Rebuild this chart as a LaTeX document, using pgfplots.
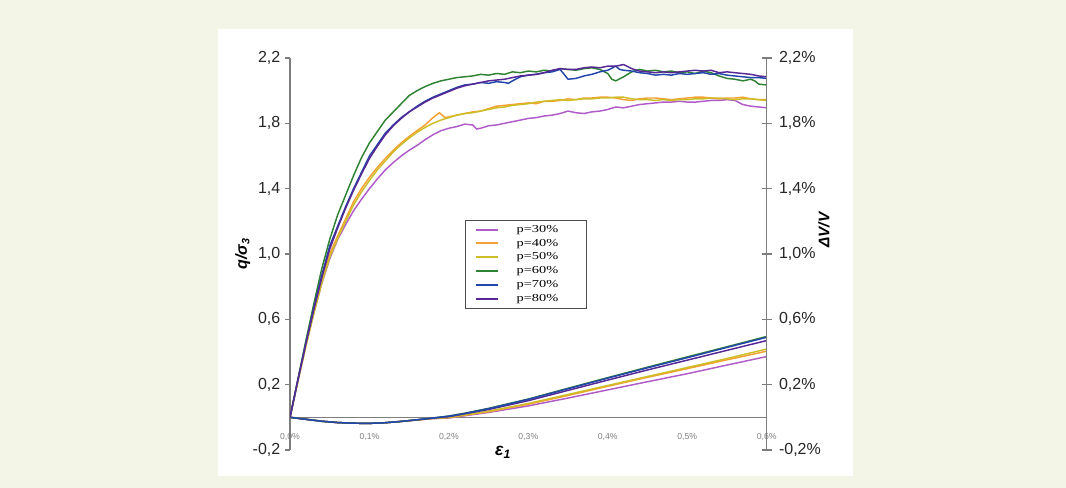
\documentclass[border=0pt]{standalone}
\usepackage{fontspec}
\setmainfont{Liberation Sans}
\newfontfamily\legfont{Liberation Serif}[FakeStretch=1.35]
\usepackage{pgfplots}
\pgfplotsset{compat=1.18}
\definecolor{bgc}{RGB}{243,246,231}
\definecolor{axc}{RGB}{125,125,125}
\definecolor{cA}{RGB}{176,92,200}
\definecolor{cB}{RGB}{245,160,50}
\definecolor{cC}{RGB}{205,190,40}
\definecolor{cD}{RGB}{46,130,50}
\definecolor{cE}{RGB}{35,70,170}
\definecolor{cF}{RGB}{85,40,150}
\newcommand{\legtxt}[1]{\makebox[43pt][l]{#1}}
\begin{document}
\begin{tikzpicture}
\fill[bgc] (0pt,0pt) rectangle (799.5pt,366pt);
\fill[white] (163.5pt,9pt) rectangle (639.75pt,344.25pt);
\begin{axis}[
  scale only axis, width=357.5pt, height=294pt,
  at={(217.5pt,28.5pt)}, anchor=south west,
  xmin=0, xmax=0.6, ymin=-0.2, ymax=2.2,
  axis y line*=left, axis x line=middle,
  axis line style={-, draw=axc, line width=0.9pt},
  every inner x axis line/.append style={-},
  hide obscured x ticks=false,
  tick align=outside, major tick length=3.75pt,
  tick style={draw=axc, line width=0.8pt},
  major x tick style={draw=none},
  xtick={0,0.1,0.2,0.3,0.4,0.5,0.6},
  xticklabels={{0,0\%},{0,1\%},{0,2\%},{0,3\%},{0,4\%},{0,5\%},{0,6\%}},
  xticklabel style={font=\fontsize{6.5}{7}\selectfont, text=gray, yshift=-5pt},
  ytick={-0.2,0.2,0.6,1.0,1.4,1.8,2.2},
  yticklabels={{-0,2},{0,2},{0,6},{1,0},{1,4},{1,8},{2,2}},
  yticklabel style={font=\fontsize{12}{14}\selectfont, text=black!85},
  ylabel={\bfseries\itshape q/σ\textsubscript{3}},
  ylabel style={at={(axis description cs:-0.099,0.5)}, anchor=center, rotate=0, font=\fontsize{12}{14}\selectfont},
  xlabel={\bfseries\itshape ε\textsubscript{1}},
  xlabel style={at={(axis description cs:0.447,-0.005)}, anchor=center, font=\fontsize{13}{15}\selectfont},
  legend style={at={(axis description cs:0.367,0.587)}, anchor=north west,
    draw=black!70, line width=0.6pt, fill=white,
    font=\legfont\fontsize{8}{9}\selectfont, row sep=-0.35pt, inner xsep=7pt, inner ysep=1.5pt,
    /tikz/every odd column/.append style={column sep=11pt}},
  legend cell align=left,
  legend image code/.code={\draw[#1, line width=1.5pt] (0pt,0pt) -- (17pt,0pt);},
  every axis plot/.append style={line width=1.1pt},
]
% volumetric strain curves (right axis, same scale)
\addplot[cA, forget plot] coordinates {(0,0)(0.02,-0.012)(0.04,-0.024)(0.06,-0.032)(0.08,-0.036)(0.10,-0.037)(0.12,-0.033)(0.14,-0.025)(0.16,-0.016)(0.18,-0.008)(0.20,-0.004)(0.25,0.03)(0.30,0.07)(0.35,0.118)(0.40,0.168)(0.45,0.218)(0.50,0.267)(0.55,0.32)(0.60,0.372)};
\addplot[cB, forget plot] coordinates {(0,0)(0.02,-0.012)(0.04,-0.024)(0.06,-0.032)(0.08,-0.036)(0.10,-0.037)(0.12,-0.033)(0.14,-0.025)(0.16,-0.016)(0.18,-0.007)(0.20,-0.002)(0.25,0.034)(0.30,0.08)(0.35,0.134)(0.40,0.19)(0.45,0.245)(0.50,0.298)(0.55,0.352)(0.60,0.405)};
\addplot[cC, forget plot] coordinates {(0,0)(0.02,-0.012)(0.04,-0.024)(0.06,-0.032)(0.08,-0.036)(0.10,-0.037)(0.12,-0.033)(0.14,-0.025)(0.16,-0.016)(0.18,-0.006)(0.20,0.0)(0.25,0.038)(0.30,0.085)(0.35,0.14)(0.40,0.195)(0.45,0.25)(0.50,0.305)(0.55,0.36)(0.60,0.418)};
\addplot[cF, forget plot] coordinates {(0,0)(0.02,-0.012)(0.04,-0.024)(0.06,-0.032)(0.08,-0.036)(0.10,-0.037)(0.12,-0.033)(0.14,-0.025)(0.16,-0.015)(0.18,-0.005)(0.20,0.004)(0.25,0.048)(0.30,0.102)(0.35,0.165)(0.40,0.228)(0.45,0.29)(0.50,0.35)(0.55,0.41)(0.60,0.47)};
\addplot[cD, forget plot] coordinates {(0,0)(0.02,-0.012)(0.04,-0.024)(0.06,-0.032)(0.08,-0.036)(0.10,-0.037)(0.12,-0.033)(0.14,-0.025)(0.16,-0.015)(0.18,-0.004)(0.20,0.008)(0.22,0.025)(0.25,0.055)(0.30,0.112)(0.35,0.178)(0.40,0.243)(0.45,0.307)(0.50,0.37)(0.55,0.432)(0.60,0.495)};
\addplot[cE, forget plot] coordinates {(0,0)(0.02,-0.012)(0.04,-0.024)(0.06,-0.032)(0.08,-0.036)(0.10,-0.037)(0.12,-0.033)(0.14,-0.025)(0.16,-0.015)(0.18,-0.004)(0.20,0.007)(0.22,0.024)(0.25,0.053)(0.30,0.11)(0.35,0.175)(0.40,0.24)(0.45,0.303)(0.50,0.365)(0.55,0.428)(0.60,0.49)};
% deviatoric stress ratio curves
\addplot[cA] coordinates {(0,0)(0.01,0.225)(0.02,0.44)(0.03,0.64)(0.04,0.82)(0.05,0.97)(0.06,1.09)(0.07,1.18)(0.08,1.265)(0.09,1.335)(0.10,1.40)(0.11,1.46)(0.12,1.515)(0.13,1.56)(0.14,1.60)(0.15,1.635)(0.16,1.665)(0.17,1.70)(0.18,1.73)(0.19,1.755)(0.20,1.77)(0.21,1.78)(0.22,1.795)(0.23,1.79)(0.235,1.765)(0.24,1.77)(0.25,1.785)(0.26,1.79)(0.27,1.80)(0.28,1.81)(0.29,1.82)(0.30,1.83)(0.31,1.835)(0.32,1.845)(0.33,1.85)(0.34,1.86)(0.35,1.875)(0.36,1.865)(0.37,1.86)(0.38,1.87)(0.39,1.875)(0.40,1.885)(0.41,1.90)(0.42,1.895)(0.43,1.905)(0.44,1.915)(0.45,1.92)(0.46,1.925)(0.47,1.93)(0.48,1.93)(0.49,1.935)(0.50,1.93)(0.51,1.93)(0.52,1.935)(0.53,1.94)(0.54,1.94)(0.55,1.945)(0.56,1.94)(0.57,1.915)(0.58,1.905)(0.59,1.90)(0.60,1.895)};
\addlegendentry{\legtxt{p=30\%}}
\addplot[cB] coordinates {(0,0)(0.01,0.225)(0.02,0.445)(0.03,0.65)(0.04,0.84)(0.05,1.00)(0.06,1.11)(0.07,1.215)(0.08,1.32)(0.09,1.40)(0.10,1.47)(0.11,1.53)(0.12,1.585)(0.13,1.635)(0.14,1.68)(0.15,1.72)(0.16,1.755)(0.17,1.79)(0.18,1.835)(0.188,1.865)(0.195,1.835)(0.20,1.84)(0.21,1.85)(0.22,1.86)(0.23,1.87)(0.24,1.875)(0.25,1.89)(0.26,1.905)(0.27,1.91)(0.28,1.915)(0.29,1.92)(0.30,1.925)(0.31,1.92)(0.32,1.935)(0.33,1.935)(0.34,1.94)(0.35,1.95)(0.36,1.945)(0.37,1.955)(0.38,1.955)(0.39,1.96)(0.40,1.96)(0.41,1.955)(0.42,1.945)(0.43,1.94)(0.44,1.95)(0.45,1.955)(0.46,1.955)(0.47,1.95)(0.48,1.945)(0.49,1.95)(0.50,1.955)(0.51,1.96)(0.52,1.96)(0.53,1.955)(0.54,1.95)(0.55,1.955)(0.56,1.955)(0.57,1.96)(0.58,1.95)(0.59,1.945)(0.60,1.945)};
\addlegendentry{\legtxt{p=40\%}}
\addplot[cC] coordinates {(0,0)(0.01,0.22)(0.02,0.435)(0.03,0.635)(0.04,0.82)(0.05,0.98)(0.06,1.095)(0.07,1.20)(0.08,1.30)(0.09,1.38)(0.10,1.45)(0.11,1.515)(0.12,1.57)(0.13,1.625)(0.14,1.67)(0.15,1.71)(0.16,1.745)(0.17,1.775)(0.18,1.80)(0.19,1.82)(0.20,1.835)(0.21,1.85)(0.22,1.86)(0.23,1.865)(0.24,1.875)(0.25,1.885)(0.26,1.895)(0.27,1.90)(0.28,1.91)(0.29,1.915)(0.30,1.92)(0.31,1.93)(0.32,1.935)(0.33,1.94)(0.34,1.945)(0.35,1.94)(0.36,1.945)(0.37,1.95)(0.38,1.95)(0.39,1.955)(0.40,1.955)(0.41,1.96)(0.42,1.96)(0.43,1.95)(0.44,1.945)(0.45,1.945)(0.46,1.94)(0.47,1.945)(0.48,1.94)(0.49,1.945)(0.50,1.945)(0.51,1.95)(0.52,1.95)(0.53,1.955)(0.54,1.955)(0.55,1.95)(0.56,1.945)(0.57,1.95)(0.58,1.95)(0.59,1.945)(0.60,1.94)};
\addlegendentry{\legtxt{p=50\%}}
\addplot[cD] coordinates {(0,0)(0.01,0.235)(0.02,0.47)(0.03,0.695)(0.04,0.91)(0.05,1.09)(0.06,1.24)(0.07,1.36)(0.08,1.48)(0.09,1.59)(0.10,1.68)(0.11,1.75)(0.12,1.82)(0.13,1.87)(0.14,1.92)(0.15,1.97)(0.16,2.00)(0.17,2.025)(0.18,2.045)(0.19,2.06)(0.20,2.07)(0.21,2.08)(0.22,2.085)(0.23,2.09)(0.24,2.10)(0.25,2.095)(0.26,2.105)(0.27,2.10)(0.28,2.115)(0.29,2.11)(0.30,2.12)(0.31,2.115)(0.32,2.125)(0.33,2.12)(0.34,2.135)(0.35,2.13)(0.36,2.125)(0.37,2.135)(0.38,2.14)(0.39,2.13)(0.40,2.105)(0.405,2.07)(0.41,2.06)(0.42,2.085)(0.43,2.115)(0.44,2.13)(0.45,2.12)(0.46,2.125)(0.47,2.115)(0.48,2.12)(0.49,2.11)(0.50,2.115)(0.51,2.105)(0.52,2.12)(0.53,2.11)(0.54,2.09)(0.55,2.075)(0.56,2.07)(0.57,2.06)(0.58,2.07)(0.585,2.06)(0.59,2.04)(0.60,2.035)};
\addlegendentry{\legtxt{p=60\%}}
\addplot[cE] coordinates {(0,0)(0.01,0.23)(0.02,0.455)(0.03,0.67)(0.04,0.87)(0.05,1.05)(0.06,1.17)(0.07,1.29)(0.08,1.40)(0.09,1.50)(0.10,1.60)(0.11,1.67)(0.12,1.74)(0.13,1.79)(0.14,1.835)(0.15,1.87)(0.16,1.905)(0.17,1.935)(0.18,1.96)(0.19,1.98)(0.20,2.00)(0.21,2.02)(0.22,2.035)(0.23,2.04)(0.24,2.05)(0.25,2.045)(0.26,2.055)(0.27,2.05)(0.275,2.045)(0.28,2.06)(0.29,2.085)(0.30,2.095)(0.31,2.10)(0.32,2.11)(0.33,2.115)(0.34,2.13)(0.345,2.10)(0.35,2.07)(0.36,2.075)(0.37,2.09)(0.38,2.10)(0.39,2.115)(0.40,2.125)(0.41,2.15)(0.415,2.13)(0.42,2.125)(0.43,2.12)(0.44,2.11)(0.45,2.105)(0.46,2.095)(0.47,2.10)(0.48,2.095)(0.49,2.105)(0.50,2.10)(0.51,2.105)(0.52,2.11)(0.53,2.10)(0.54,2.105)(0.55,2.095)(0.56,2.09)(0.57,2.085)(0.58,2.08)(0.59,2.08)(0.60,2.075)};
\addlegendentry{\legtxt{p=70\%}}
\addplot[cF] coordinates {(0,0)(0.01,0.23)(0.02,0.45)(0.03,0.66)(0.04,0.855)(0.05,1.03)(0.06,1.16)(0.07,1.28)(0.08,1.39)(0.09,1.49)(0.10,1.585)(0.11,1.66)(0.12,1.73)(0.13,1.785)(0.14,1.83)(0.15,1.87)(0.16,1.90)(0.17,1.93)(0.18,1.955)(0.19,1.975)(0.20,1.995)(0.21,2.015)(0.22,2.03)(0.23,2.04)(0.24,2.05)(0.25,2.06)(0.26,2.065)(0.27,2.07)(0.28,2.08)(0.29,2.09)(0.30,2.095)(0.31,2.10)(0.32,2.11)(0.33,2.125)(0.34,2.135)(0.35,2.13)(0.36,2.13)(0.37,2.14)(0.38,2.145)(0.39,2.14)(0.40,2.15)(0.41,2.15)(0.42,2.16)(0.43,2.135)(0.44,2.12)(0.45,2.115)(0.46,2.11)(0.47,2.115)(0.48,2.11)(0.49,2.115)(0.50,2.12)(0.51,2.125)(0.52,2.12)(0.53,2.125)(0.54,2.11)(0.55,2.115)(0.56,2.11)(0.57,2.105)(0.58,2.10)(0.59,2.09)(0.60,2.085)};
\addlegendentry{\legtxt{p=80\%}}
\end{axis}
\begin{axis}[
  scale only axis, width=357.5pt, height=294pt,
  at={(217.5pt,28.5pt)}, anchor=south west,
  xmin=0, xmax=0.6, ymin=-0.2, ymax=2.2, clip=false,
  axis y line*=right, axis x line=none,
  axis line style={-, draw=axc, line width=0.9pt},
  tick align=center, major tick length=7.5pt,
  tick style={draw=axc, line width=0.8pt},
  ytick={-0.2,0.2,0.6,1.0,1.4,1.8,2.2},
  yticklabels={{-0,2\%},{0,2\%},{0,6\%},{1,0\%},{1,4\%},{1,8\%},{2,2\%}},
  yticklabel style={font=\fontsize{12}{14}\selectfont, text=black!85, xshift=2pt},
]
\node[rotate=90, anchor=center, font=\fontsize{11.5}{13}\selectfont\bfseries\itshape] at (axis description cs:1.12,0.561) {ΔV/V};
\end{axis}
\end{tikzpicture}
\end{document}
